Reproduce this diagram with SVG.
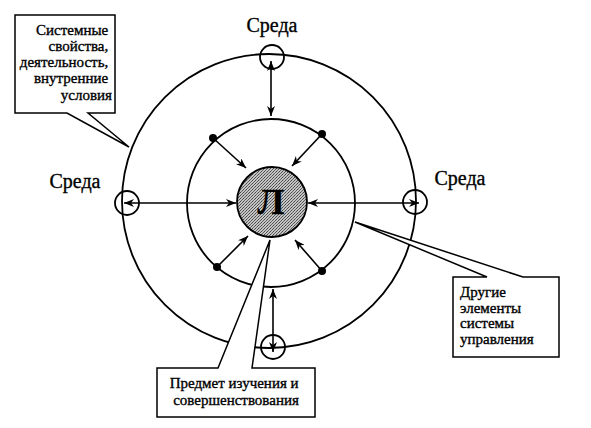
<svg xmlns="http://www.w3.org/2000/svg" width="591" height="428" viewBox="0 0 591 428">
<style>
.ring{stroke:#000;stroke-width:1.8;fill:none}
.arr{stroke:#000;stroke-width:1.6;fill:none;marker-end:url(#ah)}
.arr2{stroke:#000;stroke-width:1.6;fill:none;marker-start:url(#ah);marker-end:url(#ah)}
.dot{fill:#000}
.box{fill:#fff;stroke:#000;stroke-width:1.5}
text{stroke:#000;stroke-width:0.35}
</style>
<defs>
<marker id="ah" viewBox="0 0 10 8" refX="10" refY="4" markerWidth="10" markerHeight="8" markerUnits="userSpaceOnUse" orient="auto-start-reverse">
<path d="M0,0 L10,4 L0,8 L3,4 Z" fill="#000"/>
</marker>
<pattern id="dither" width="3" height="3" patternUnits="userSpaceOnUse">
<rect width="3" height="3" fill="#c4c4c4"/>
<rect x="0" y="0" width="1" height="1" fill="#444"/>
<rect x="2" y="1" width="1" height="1" fill="#555"/>
<rect x="1" y="2" width="1" height="1" fill="#666"/>
</pattern>
</defs>

<g id="rings">
<circle class="ring" cx="269" cy="201" r="147"/>
<circle class="ring" cx="271" cy="203" r="84"/>
</g>

<g id="connectors">
<line class="arr2" x1="271" y1="61" x2="271" y2="116"/>
<line class="arr2" x1="273" y1="289" x2="273" y2="352"/>
<line class="arr2" x1="124" y1="203" x2="236" y2="203"/>
<line class="arr2" x1="308" y1="203" x2="419" y2="203"/>
<line class="arr" x1="213" y1="138" x2="246" y2="168"/>
<line class="arr" x1="322" y1="134" x2="292" y2="166"/>
<line class="arr" x1="217" y1="267" x2="248" y2="236"/>
<line class="arr" x1="322" y1="271" x2="295" y2="240"/>
</g>

<g id="dots">
<circle class="dot" cx="213" cy="138" r="4"/>
<circle class="dot" cx="322" cy="134" r="4"/>
<circle class="dot" cx="217" cy="267" r="4"/>
<circle class="dot" cx="322" cy="271" r="4"/>
</g>

<g id="env-top" font-family="Liberation Serif, Times New Roman, serif" font-size="20" fill="#000">
<circle class="ring" cx="272" cy="57" r="12"/>
<text x="272" y="32" text-anchor="middle">Среда</text>
</g>
<g id="env-left" font-family="Liberation Serif, Times New Roman, serif" font-size="20" fill="#000">
<circle class="ring" cx="127" cy="203" r="12"/>
<text x="75" y="188" text-anchor="middle">Среда</text>
</g>
<g id="env-right" font-family="Liberation Serif, Times New Roman, serif" font-size="20" fill="#000">
<circle class="ring" cx="415" cy="202" r="12"/>
<text x="460" y="185" text-anchor="middle">Среда</text>
</g>
<g id="env-bottom">
<circle class="ring" cx="273" cy="347" r="12"/>
</g>

<g id="center">
<circle cx="272" cy="202" r="35" fill="url(#dither)" stroke="#000" stroke-width="1.8"/>
<text x="271" y="214" text-anchor="middle" font-family="Liberation Serif, Times New Roman, serif" font-size="36" font-weight="bold" fill="#000">Л</text>
</g>

<g id="callout-system" font-family="Liberation Serif, Times New Roman, serif" font-size="15" fill="#000">
<path class="box" d="M15,15 H115 V113 H88 L129,147 L67,113 H15 Z"/>
<text text-anchor="end">
<tspan x="112" y="35">Системные</tspan>
<tspan x="112" y="51">свойства,</tspan>
<tspan x="112" y="67">деятельность,</tspan>
<tspan x="112" y="83">внутренние</tspan>
<tspan x="112" y="100">условия</tspan>
</text>
</g>

<g id="callout-other" font-family="Liberation Serif, Times New Roman, serif" font-size="15" fill="#000">
<path class="box" d="M453,277 H487 L355,222 L523,277 H559 V357 H453 Z"/>
<text>
<tspan x="460" y="297">Другие</tspan>
<tspan x="460" y="313">элементы</tspan>
<tspan x="460" y="328">системы</tspan>
<tspan x="460" y="344">управления</tspan>
</text>
</g>

<g id="callout-subject" font-family="Liberation Serif, Times New Roman, serif" font-size="15" fill="#000">
<path class="box" d="M157,368 H218 L270,240 L252,368 H315 V417 H157 Z"/>
<text text-anchor="middle">
<tspan x="236" y="388">Предмет изучения и</tspan>
<tspan x="236" y="405">совершенствования</tspan>
</text>
</g>
</svg>
